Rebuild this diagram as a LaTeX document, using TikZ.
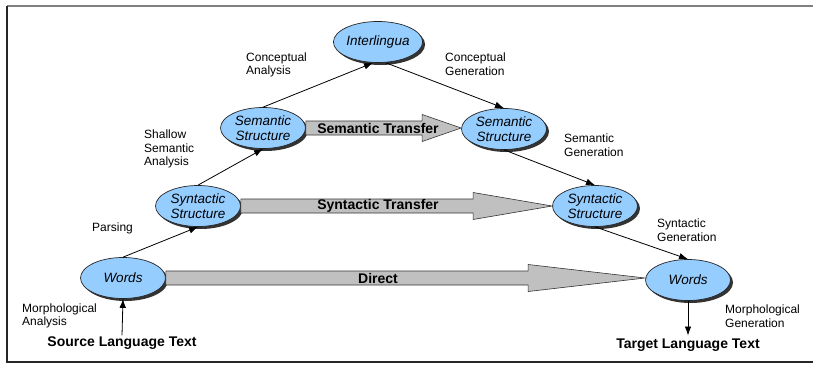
\documentclass[tikz,border=0pt]{standalone}
\usepackage{fontspec}
\setmainfont{Liberation Sans}
\usepackage[svgnames]{xcolor}
\usepackage{tikz}
\usetikzlibrary{shapes.geometric,shadows,arrows.meta,calc}
\tikzset{>={Latex[width=6.5pt,length=9pt]}}

\definecolor{levelblue}{RGB}{150,205,255}
\definecolor{transfergray}{RGB}{192,192,192}

\tikzset{
  level/.style={shape=ellipse,draw=black!85,line width=0.7pt,fill=levelblue,
    minimum width=85pt,minimum height=41pt,inner sep=0pt,align=center,
    font=\fontsize{13.5}{15.5}\selectfont\itshape,
    drop shadow={shadow xshift=2.5pt,shadow yshift=-2.5pt,fill=black!80,opacity=1}},
  steplabel/.style={anchor=west,inner sep=0pt,align=left,
    font=\fontsize{12}{13.5}\selectfont},
  textlabel/.style={inner sep=1pt,font=\fontsize{14}{16}\selectfont\bfseries},
  transfer/.style={draw=black!80,line width=0.6pt,fill=transfergray},
  transferlabel/.style={inner sep=0pt,font=\fontsize{14}{16}\selectfont\bfseries},
  link/.style={->,line width=0.8pt}
}

% fat arrow from the east side of #1 to the west side of #2, head length #3
\newcommand{\transferarrow}[5]{%
  \draw[transfer] let \p1=(#1.east), \p2=(#2.west) in
    (\x1,\y1+7) -- (\x2-#3,\y1+7) -- (\x2-#3,\y1+13.5) -- (\x2,\y1)
    -- (\x2-#3,\y1-13.5) -- (\x2-#3,\y1-7) -- (\x1,\y1-7) -- cycle;
  \path (inter |- #1.east) node (#4) [transferlabel]{#5};}

\begin{document}
\begin{tikzpicture}[x=1pt,y=-1pt]

\useasboundingbox (0,0) rectangle (813,364);

% frame
\draw[line width=2pt,gray] (7,6) -- (813,6);
\draw[line width=1.4pt,black!85] (7,6) -- (7,362) -- (813,362);

% levels
\path (378,42) node (inter) [level]{Interlingua};

\path (263,128) node (semL) [level]{Semantic\\Structure};

\path (504,129) node (semR) [level]{Semantic\\Structure};

\path (198,206) node (syntL) [level]{Syntactic\\Structure};

\path (595,206) node (syntR) [level]{Syntactic\\Structure};

\path (123,278) node (wordsL) [level]{Words};

\path (688,280) node (wordsR) [level]{Words};

% source and target
\path (122,343) node (source) [textlabel]{Source Language Text};

\path (688,345) node (target) [textlabel]{Target Language Text};

% transfers
\transferarrow{semL}{semR}{39}{semT}{Semantic Transfer}
\transferarrow{syntL}{syntR}{79}{syntT}{Syntactic Transfer}
\transferarrow{wordsL}{wordsR}{117}{directT}{Direct}

% analysis and generation
\draw[link] (source.north) -- (wordsL.south);
\draw[link] (wordsL.north) -- (syntL.south);
\draw[link] (syntL.north) -- (semL.south);
\draw[link] (semL.north) -- ([xshift=-5pt]inter.south);
\draw[link] ([xshift=8pt]inter.south) -- (semR.north);
\draw[link] (semR.south) -- (syntR.north);
\draw[link] (syntR.south) -- (wordsR.north);
\draw[link,shorten >=2pt] (wordsR.south) -- (target.north);

% step labels
\path (246,65) node (concA) [steplabel]{Conceptual\\Analysis};

\path (445,64) node (concG) [steplabel]{Conceptual\\Generation};

\path (144,149) node (shallowA) [steplabel]{Shallow\\Semantic\\Analysis};

\path (564,145) node (semG) [steplabel]{Semantic\\Generation};

\path (92,228) node (parsing) [steplabel]{Parsing};

\path (657,230) node (syntG) [steplabel]{Syntactic\\Generation};

\path (22,316) node (morphA) [steplabel]{Morphological\\Analysis};

\path (725,316) node (morphG) [steplabel]{Morphological\\Generation};

\end{tikzpicture}
\end{document}
